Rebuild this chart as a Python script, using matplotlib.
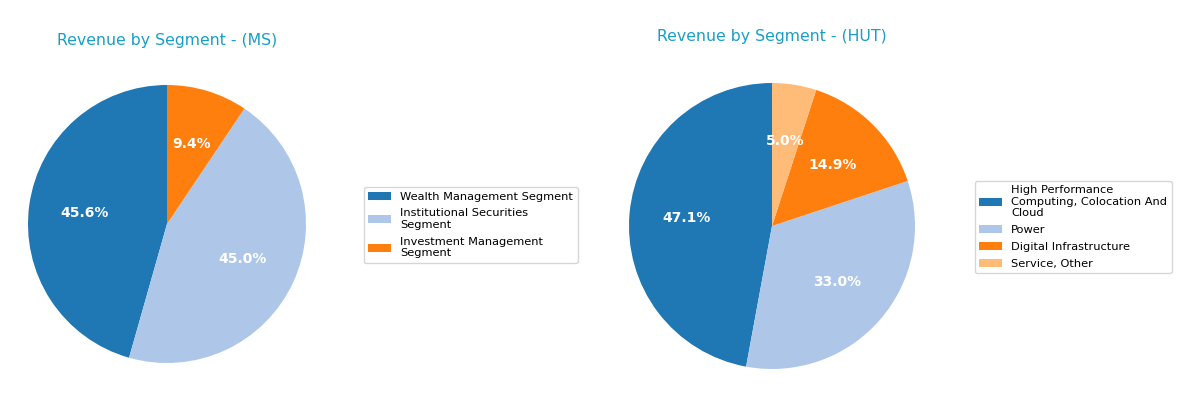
import matplotlib
matplotlib.use("Agg")
import matplotlib.pyplot as plt
import textwrap

ms_labels = ["Wealth Management Segment", "Institutional Securities Segment", "Investment Management Segment"]
ms_values = [45.6, 45.0, 9.4]
hut_labels = ["High Performance Computing, Colocation And Cloud", "Power", "Digital Infrastructure", "Service, Other"]
hut_values = [47.1, 33.0, 14.9, 5.0]
colors = ["#1f77b4", "#aec7e8", "#ff7f0e", "#ffbb78"]
title_color = "#1a9fc4"

W, H = 1200, 399
fig = plt.figure(figsize=(12, 3.99), dpi=100)

def add_pie(cx, cy, r, labels, values, title, title_y, leg_x, leg_y):
    size = 2.5 * r
    ax = fig.add_axes([(cx - size / 2) / W, (H - cy - size / 2) / H, size / W, size / H])
    wedges, texts, autotexts = ax.pie(values, colors=colors[:len(values)], startangle=90,
                                      autopct="%1.1f%%", pctdistance=0.6,
                                      textprops=dict(color="white", fontsize=10, fontweight="bold"))
    ax.set_aspect("equal")
    fig.text(cx / W, 1 - title_y / H, title, ha="center", va="center", fontsize=11.3, color=title_color)
    wrapped = [textwrap.fill(l, 25) for l in labels]
    fig.legend(wedges, wrapped, loc="center left", bbox_to_anchor=(leg_x / W, 1 - leg_y / H),
               fontsize=8.2, frameon=True, labelspacing=0.6, handlelength=2.0)
    return ax

add_pie(167, 224, 139, ms_labels, ms_values, "Revenue by Segment - (MS)", 40, 358, 225)
add_pie(772, 226, 143, hut_labels, hut_values, "Revenue by Segment - (HUT)", 36, 969, 227)

fig.savefig("out.png", dpi=100)
